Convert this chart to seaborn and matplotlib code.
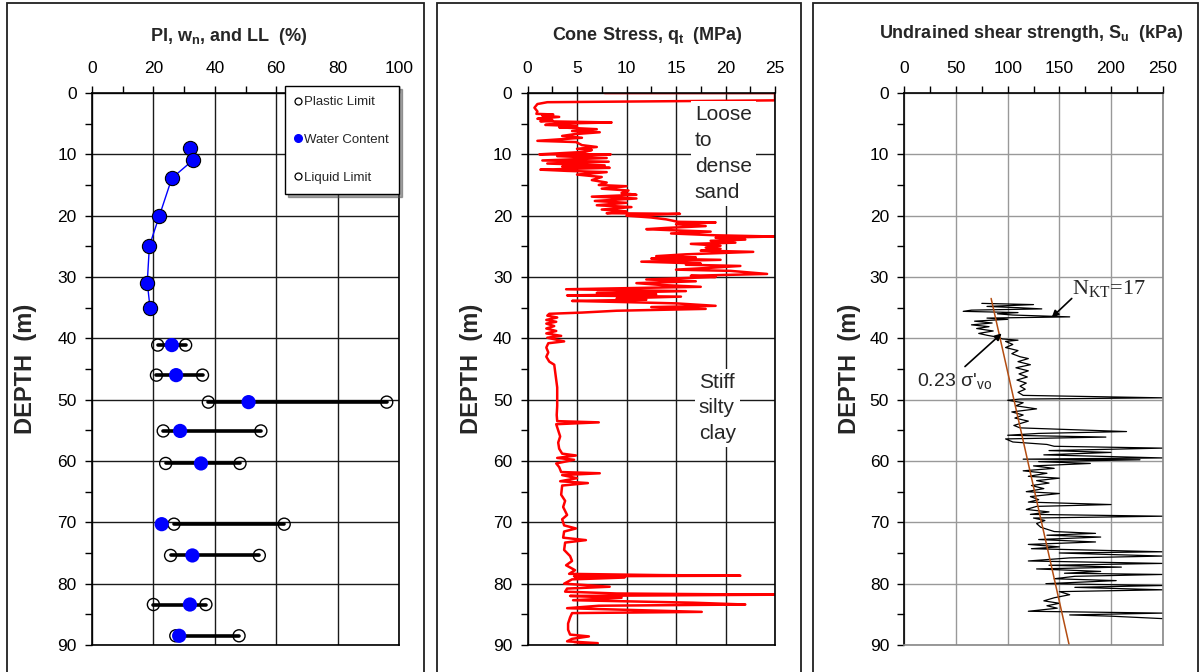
import numpy as np
import pandas as pd
import matplotlib
matplotlib.use("Agg")
import matplotlib.pyplot as plt
import seaborn as sns
from matplotlib.lines import Line2D
from matplotlib.patches import Rectangle
from matplotlib.ticker import MultipleLocator

sns.set_style("white")
plt.rcParams['font.family'] = ['Liberation Sans', 'DejaVu Sans']
plt.rcParams['mathtext.fontset'] = 'custom'
plt.rcParams['mathtext.rm'] = 'Liberation Sans'
plt.rcParams['mathtext.bf'] = 'Liberation Sans:bold'
plt.rcParams['mathtext.it'] = 'Liberation Sans:italic'

# ---------------- Panel 1 data: index properties ----------------
depth_wc_upper = [8.9, 10.9, 13.9, 20.1, 24.9, 30.9, 35.0]
wc_upper = [31.9, 33.0, 26.0, 21.9, 18.7, 18.0, 18.9]

depth_lab = [41.1, 46.0, 50.4, 55.1, 60.4, 70.3, 75.4, 83.4, 88.5]
plastic_limit = [21.4, 21.0, 37.9, 23.2, 24.0, 26.7, 25.6, 20.0, 27.3]
liquid_limit = [30.5, 36.0, 96.0, 55.0, 48.2, 62.6, 54.5, 37.1, 47.9]
wc_lab = [26.0, 27.4, 51.0, 28.7, 35.5, 22.7, 32.7, 31.9, 28.4]

# ---------------- Panel 2 data: cone stress qt (MPa) ----------------
qt_depth = [0.0, 0.0, 1.2, 1.5, 1.8, 2.4, 3.0, 3.4, 3.5, 3.7, 3.9, 4.2, 4.4, 4.6, 4.8, 5.0, 5.2, 5.4, 5.6, 5.9,
            6.2, 6.4, 6.7, 7.0, 7.3, 7.8, 8.0, 8.5, 8.8, 9.1, 9.3, 9.6, 10.0, 10.0, 10.3, 10.6, 11.0, 11.2, 11.5, 11.8,
            12.0, 12.2, 12.5, 12.7, 12.9, 13.3, 13.7, 14.2, 14.6, 15.0, 15.2, 15.6, 15.9, 16.3, 16.6, 16.9, 17.2, 17.6, 17.9, 18.3,
            18.6, 19.0, 19.3, 19.6, 19.7, 20.0, 20.3, 20.6, 21.0, 21.1, 21.4, 21.7, 22.0, 22.2, 22.4, 22.6, 22.9, 23.2, 23.4, 23.6,
            23.9, 24.1, 24.4, 24.6, 24.9, 25.2, 25.4, 25.7, 25.9, 26.3, 26.6, 26.8, 27.0, 27.2, 27.5, 27.8, 28.0, 28.2, 28.5, 28.8,
            29.0, 29.5, 29.8, 30.0, 30.4, 30.7, 31.0, 31.3, 31.6, 32.0, 32.3, 32.6, 32.8, 33.0, 33.2, 33.5, 33.7, 33.9, 34.1, 34.3,
            34.7, 34.9, 35.2, 35.5, 35.8, 36.0,
            36.3, 36.6, 37.0, 37.3, 37.6, 38.0, 38.4, 38.8, 39.2, 39.6, 39.9, 40.5, 40.8, 41.5, 42.3, 43.0, 43.8, 44.3, 45.5, 46.8,
            48.0, 49.5, 51.0, 52.5, 53.5, 53.7, 54.0, 55.0, 56.0, 57.0, 58.0, 58.8, 59.1, 59.5, 59.8, 60.4, 61.0, 61.8, 62.0, 62.3,
            62.8, 63.3, 63.6, 64.0, 65.5, 66.5, 67.5, 68.8, 69.5, 70.5, 71.0, 71.5, 72.5, 72.9, 73.3, 74.5, 75.5, 76.3, 77.0, 77.8,
            78.4, 78.6, 78.7, 78.8, 79.0, 79.3, 80.0, 80.5, 80.8, 81.3, 81.6, 81.8, 82.0, 82.3, 82.7, 83.1, 83.4, 83.6, 84.0, 84.6,
            84.8, 85.5, 86.5, 87.5, 88.3, 88.6, 89.0, 89.4, 89.7, 90.0]
qt_value = [7.8, 25.0, 25.0, 2.0, 1.0, 0.7, 1.0, 0.9, 2.6, 1.5, 3.2, 1.0, 2.5, 1.3, 8.5, 3.0, 1.8, 5.0, 3.2, 7.0,
            4.5, 7.3, 4.8, 3.5, 5.5, 1.0, 4.9, 5.5, 7.0, 5.0, 6.5, 5.8, 1.2, 8.4, 3.0, 8.0, 1.5, 8.2, 2.0, 7.8,
            3.5, 8.3, 1.3, 4.0, 8.0, 5.0, 7.5, 6.5, 8.0, 7.2, 10.0, 7.5, 10.2, 9.5, 11.0, 6.5, 11.0, 6.8, 10.0, 7.0,
            10.5, 7.5, 10.0, 8.0, 15.4, 10.0, 12.5, 14.0, 15.2, 19.0, 15.0, 18.0, 14.0, 12.0, 15.0, 18.5, 14.5, 19.0, 25.0, 19.0,
            22.0, 18.5, 21.0, 16.5, 19.5, 18.0, 19.5, 17.5, 22.8, 16.0, 13.0, 17.0, 12.5, 19.5, 11.5, 17.5, 16.0, 21.5, 18.5, 15.0,
            20.5, 24.2, 16.5, 19.0, 12.0, 17.0, 11.0, 13.5, 17.5, 3.9, 16.0, 7.0, 13.0, 4.0, 15.5, 9.0, 12.0, 4.5, 10.0, 15.0,
            19.0, 12.5, 18.0, 9.0, 5.5, 2.2,
            2.0, 3.0, 1.9, 2.9, 1.9, 2.7, 1.9, 2.9, 1.9, 3.4, 2.0, 3.7, 2.1, 1.9, 2.1, 1.9, 2.2, 2.7, 2.8, 2.9,
            3.0, 3.0, 3.0, 2.95, 3.0, 7.2, 2.9, 3.1, 3.3, 3.1, 3.2, 3.5, 4.9, 3.0, 4.7, 2.9, 3.2, 3.4, 7.3, 3.5,
            5.0, 3.3, 6.1, 3.5, 3.4, 3.8, 3.6, 4.0, 3.5, 3.7, 4.9, 3.7, 3.6, 5.9, 3.8, 3.7, 4.3, 4.5, 3.9, 4.8,
            4.2, 13.3, 21.5, 4.7, 9.8, 4.5, 3.7, 8.3, 4.0, 3.8, 9.0, 25.0, 4.3, 9.5, 4.6, 16.7, 22.0, 7.2, 4.0, 17.6,
            4.5, 4.3, 4.1, 4.1, 4.3, 6.2, 4.5, 4.0, 7.1, 4.7]

# ---------------- Panel 3 data: undrained shear strength Su (kPa) ----------------
su_depth = [34.3, 34.5, 34.8, 35.0, 35.2, 35.4, 35.6, 35.8, 36.0, 36.2, 36.5, 36.7, 36.9, 37.2, 37.5, 37.8, 38.1, 38.4, 38.8, 39.2,
            39.5, 39.8, 40.1, 40.3, 40.5, 41.0, 41.5, 42.0, 42.5, 43.0, 43.3, 43.8, 44.3, 44.8, 45.3, 45.8, 46.3, 46.8, 47.3, 47.8,
            48.3, 48.8, 49.3, 49.7, 49.9, 50.1, 50.5, 51.0, 51.5, 52.0, 52.5, 53.0, 53.5, 54.2, 54.6, 55.2, 55.5, 55.8, 56.1, 56.4,
            56.9, 57.3, 57.6, 57.9, 58.3, 58.6, 59.0, 59.5, 59.7, 59.8, 60.1, 60.4, 60.8, 61.2, 61.6, 62.0, 62.5, 62.8, 63.2, 63.6,
            64.0, 64.5, 65.0, 65.3, 65.8, 66.3, 66.7, 67.1, 67.4, 67.9, 68.3, 68.7, 69.0, 69.3, 69.7, 70.2, 70.8, 71.5, 71.8, 72.1,
            72.4, 72.8, 73.2, 73.6, 74.0, 74.3, 74.8, 75.0, 75.5, 75.8, 76.3, 76.7, 77.0, 77.3, 77.6, 78.0, 78.3, 78.5, 78.8, 79.2,
            79.5, 80.0, 80.3, 80.6, 81.0, 81.3, 81.8, 82.3, 82.8, 83.2, 83.6, 84.0, 84.5, 84.8, 85.1, 85.3, 85.7]
su_value = [75, 125, 80, 110, 133, 65, 57, 110, 90, 105, 160, 80, 100, 68, 85, 65, 82, 70, 86, 72,
            80, 90, 95, 110, 98, 105, 98, 110, 104, 112, 120, 110, 122, 108, 120, 111, 119, 109, 118, 112,
            117, 110, 115, 250, 112, 100, 115, 108, 128, 104, 115, 107, 120, 106, 112, 215, 130, 100, 195, 98,
            105, 138, 145, 250, 140, 200, 135, 250, 115, 228, 130, 180, 125, 145, 115, 138, 120, 150, 128, 140,
            123, 135, 118, 150, 122, 130, 120, 200, 128, 118, 140, 122, 250, 125, 136, 128, 132, 145, 185, 138,
            190, 130, 185, 120, 150, 123, 250, 150, 250, 160, 120, 250, 140, 210, 128, 190, 155, 250, 165, 145,
            205, 137, 250, 165, 250, 150, 160, 145, 135, 150, 138, 148, 120, 250, 160, 200, 250]

# 0.23 sigma'vo trend line (end points)
trend_depth = [33.5, 90.0]
trend_su = [84.0, 159.5]

# ---------------- Figure ----------------
W, H = 1201, 672
fig = plt.figure(figsize=(W / 100, H / 100), dpi=100)
fig.patch.set_facecolor('white')

def axrect(x0, x1, y0=93, y1=645):
    return [x0 / W, 1 - y1 / H, (x1 - x0) / W, (y1 - y0) / H]

ax1 = fig.add_axes(axrect(92, 399))
ax2 = fig.add_axes(axrect(527.5, 775))
ax3 = fig.add_axes(axrect(904.3, 1162.7))

# panel frames
for x0, x1 in [(7, 424), (437, 801), (813, 1198)]:
    fig.patches.append(Rectangle((x0 / W, -0.02), (x1 - x0) / W, 1.02 - 3 / H,
                                 transform=fig.transFigure, fill=False,
                                 ec='#202020', lw=1.3, zorder=0))

def style(ax, xmax, xmaj, gridcolor, label_x):
    ax.set_xlim(0, xmax)
    ax.set_ylim(90, 0)
    ax.xaxis.set_major_locator(MultipleLocator(xmaj))
    ax.xaxis.set_minor_locator(MultipleLocator(xmaj / 2))
    ax.yaxis.set_major_locator(MultipleLocator(10))
    ax.yaxis.set_minor_locator(MultipleLocator(5))
    ax.xaxis.tick_top()
    ax.tick_params(axis='both', which='both', direction='out', length=5, width=1,
                   colors='black', labelsize=12.5)
    ax.tick_params(axis='x', which='both', top=True, bottom=False, labeltop=True,
                   labelbottom=False, pad=7)
    ax.tick_params(axis='y', which='both', left=True, right=False, pad=6)
    ax.grid(True, which='major', color=gridcolor, lw=1)
    ax.set_axisbelow(True)
    ax.set_xlabel("")
    ax.set_ylabel("DEPTH  (m)", fontsize=17, fontweight='bold')
    ax.yaxis.set_label_coords(label_x, 0.5)
    for s in ax.spines.values():
        s.set_color('black')
        s.set_linewidth(1.2)

# ---------------- Panel 1 ----------------
bars = pd.DataFrame({
    'depth': depth_lab + depth_lab,
    'value': plastic_limit + liquid_limit,
    'sample': list(range(len(depth_lab))) * 2,
})
sns.lineplot(data=bars, x='value', y='depth', units='sample', estimator=None,
             sort=False, color='black', lw=2.6, ax=ax1, legend=False)
sns.lineplot(x=wc_upper, y=depth_wc_upper, sort=False, estimator=None,
             color='blue', lw=1, ax=ax1)
sns.scatterplot(x=plastic_limit, y=depth_lab, marker='o', s=75, facecolor='none',
                edgecolor='black', linewidth=1, ax=ax1, zorder=3)
sns.scatterplot(x=liquid_limit, y=depth_lab, marker='o', s=75, facecolor='none',
                edgecolor='black', linewidth=1, ax=ax1, zorder=3)
sns.scatterplot(x=wc_upper, y=depth_wc_upper, marker='o', s=105, color='blue',
                edgecolor='black', linewidth=0.8, ax=ax1, zorder=4)
sns.scatterplot(x=wc_lab, y=depth_lab, marker='o', s=105, color='blue',
                edgecolor='none', linewidth=0, ax=ax1, zorder=4)
style(ax1, 100, 20, '#1a1a1a', (37 - 92) / 307)

handles = [
    Line2D([], [], marker='o', ls='', mfc='none', mec='black', ms=5, mew=0.9),
    Line2D([], [], marker='o', ls='', mfc='blue', mec='blue', ms=5.5),
    Line2D([], [], marker='o', ls='', mfc='none', mec='black', ms=5, mew=0.9),
]
leg = ax1.legend(handles, ['Plastic Limit', 'Water Content', 'Liquid Limit'],
                 loc='upper left', bbox_to_anchor=((285 - 92) / 307, 1 + 7 / 552),
                 bbox_transform=ax1.transAxes, frameon=True, fancybox=False,
                 shadow=True, edgecolor='black', fontsize=9.5, labelspacing=1.95,
                 handlelength=0.4, handletextpad=0.3, borderpad=0.75,
                 borderaxespad=0, framealpha=1)
leg.get_frame().set_linewidth(1)

# ---------------- Panel 2 ----------------
sns.lineplot(x=qt_value, y=qt_depth, sort=False, estimator=None, color='red',
             lw=1.8, ax=ax2)
style(ax2, 25, 5, '#1a1a1a', (483 - 527.5) / 247.5)
ax2.text(16.9, 2.0, "Loose\nto\ndense\nsand", fontsize=15, ha='left', va='top',
         linespacing=1.45, bbox=dict(fc='white', ec='none', pad=3), zorder=5)
ax2.text(17.3, 45.6, "Stiff\nsilty\nclay", fontsize=15, ha='left', va='top',
         linespacing=1.45, bbox=dict(fc='white', ec='none', pad=3), zorder=5)

# ---------------- Panel 3 ----------------
sns.lineplot(x=su_value, y=su_depth, sort=False, estimator=None, color='black',
             lw=0.9, ax=ax3)
sns.lineplot(x=trend_su, y=trend_depth, sort=False, estimator=None,
             color='#b34d12', lw=1.1, ax=ax3)
style(ax3, 250, 50, '#999999', (861 - 904.3) / 258.4)
for side in ['right', 'bottom']:
    ax3.spines[side].set_color('#888888')

ax3.annotate("", xy=(142.6, 36.6), xytext=(162, 33.5),
             arrowprops=dict(arrowstyle='-|>', color='black', lw=1.2,
                             shrinkA=0, shrinkB=0, mutation_scale=10))
ax3.text(162, 32.0, r"N$_\mathregular{KT}$=17", family=['Liberation Serif'],
         fontsize=16, ha='left', va='center')
ax3.annotate("", xy=(94.2, 39.2), xytext=(58.7, 44.6),
             arrowprops=dict(arrowstyle='-|>', color='black', lw=1.2,
                             shrinkA=0, shrinkB=0, mutation_scale=10))
ax3.text(12, 47.0, r"0.23 σ'$_\mathregular{vo}$", fontsize=14, ha='left', va='center')

# ---------------- Titles ----------------
fig.text(229 / W, 1 - 36.5 / H, r"PI, w$_\mathregular{n}$, and LL  (%)", ha='center',
         va='center', fontsize=13, fontweight='bold')
fig.text(647.7 / W, 1 - 35 / H, r"Cone Stress, q$_\mathregular{t}$  (MPa)", ha='center',
         va='center', fontsize=13, fontweight='bold')
fig.text(1031.7 / W, 1 - 33.3 / H, r"Undrained shear strength, S$_\mathregular{u}$  (kPa)",
         ha='center', va='center', fontsize=13, fontweight='bold')

fig.savefig("out.png", dpi=100)
